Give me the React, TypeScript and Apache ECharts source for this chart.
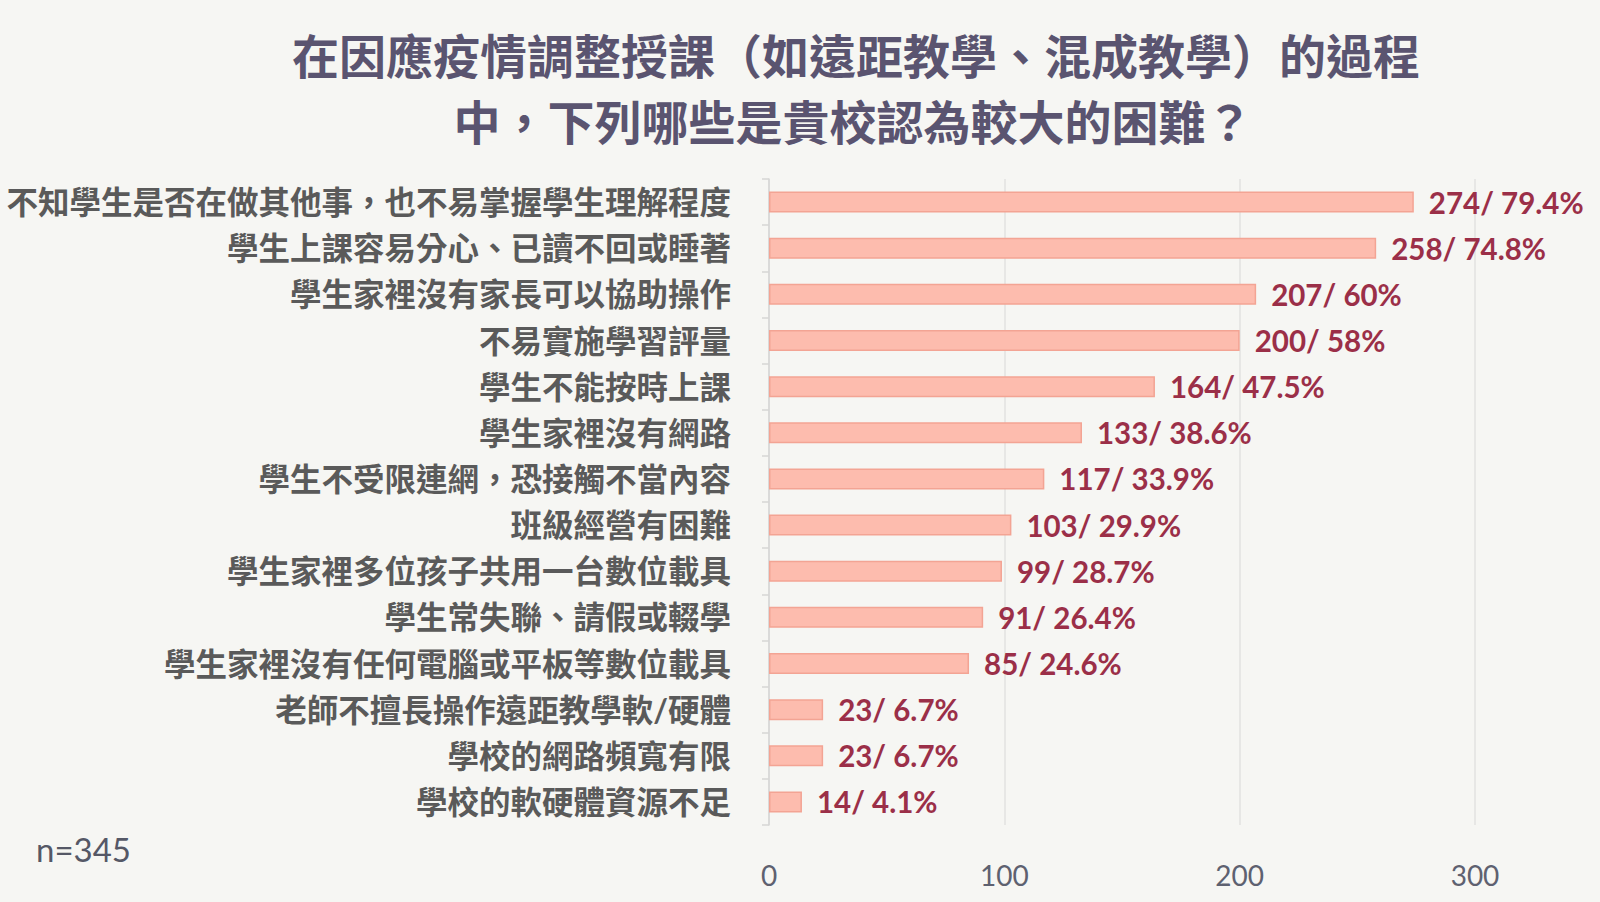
import React, { useEffect, useRef } from "react";
import * as echarts from "echarts";

const titleLines = [
  "在因應疫情調整授課（如遠距教學、混成教學）的過程",
  "中，下列哪些是貴校認為較大的困難？",
];
const categories = [
  "不知學生是否在做其他事，也不易掌握學生理解程度",
  "學生上課容易分心、已讀不回或睡著",
  "學生家裡沒有家長可以協助操作",
  "不易實施學習評量",
  "學生不能按時上課",
  "學生家裡沒有網路",
  "學生不受限連網，恐接觸不當內容",
  "班級經營有困難",
  "學生家裡多位孩子共用一台數位載具",
  "學生常失聯、請假或輟學",
  "學生家裡沒有任何電腦或平板等數位載具",
  "老師不擅長操作遠距教學軟/硬體",
  "學校的網路頻寬有限",
  "學校的軟硬體資源不足",
];
const counts = [274, 258, 207, 200, 164, 133, 117, 103, 99, 91, 85, 23, 23, 14];
const percents = ["79.4", "74.8", "60", "58", "47.5", "38.6", "33.9", "29.9", "28.7", "26.4", "24.6", "6.7", "6.7", "4.1"];
const sampleNote = "n=345";

const FONT = "Lato, 'Noto Sans CJK TC', 'Noto Sans', sans-serif";

export default function App() {
  const ref = useRef<HTMLDivElement>(null);
  useEffect(() => {
    document.body.style.margin = "0";
    const chart = echarts.init(ref.current!, null, { renderer: "svg" });
    chart.setOption({
      animation: false,
      backgroundColor: "#F6F6F3",
      grid: { left: 769, right: 125, top: 179, bottom: 77, containLabel: false },
      xAxis: {
        type: "value",
        min: 0,
        max: 300,
        interval: 100,
        axisLine: { show: false },
        axisTick: { show: false },
        splitLine: { show: true, lineStyle: { color: "#E2E2E0", width: 1.5 } },
        axisLabel: { color: "#5E6170", fontSize: 28, fontFamily: FONT, margin: 36 },
      },
      yAxis: {
        type: "category",
        inverse: true,
        data: categories,
        axisLine: { show: true, lineStyle: { color: "#D6D6D4", width: 1.5 } },
        axisTick: { show: true, length: 7, lineStyle: { color: "#D6D6D4", width: 1.5 } },
        axisLabel: {
          color: "#5A5A5A",
          fontSize: 31.5,
          fontWeight: "bold",
          fontFamily: FONT,
          margin: 38,
        },
      },
      series: [
        {
          type: "bar",
          data: counts,
          barWidth: 21,
          itemStyle: { color: "#FDBCAE", borderColor: "#F3A494", borderWidth: 1.5 },
          label: {
            show: true,
            position: "right",
            distance: 15,
            color: "#9B2F48",
            fontSize: 29.5,
            fontWeight: "bold",
            fontFamily: FONT,
            formatter: (p: any) => `${counts[p.dataIndex]}/ ${percents[p.dataIndex]}%`,
          },
        },
      ],
      graphic: [
        {
          type: "text",
          x: 856,
          y: 56,
          style: {
            text: titleLines[0],
            fill: "#5A5470",
            fontSize: 47,
            fontWeight: "bold",
            fontFamily: FONT,
            textAlign: "center",
            textVerticalAlign: "middle",
          },
        },
        {
          type: "text",
          x: 853,
          y: 122,
          style: {
            text: titleLines[1],
            fill: "#5A5470",
            fontSize: 47,
            fontWeight: "bold",
            fontFamily: FONT,
            textAlign: "center",
            textVerticalAlign: "middle",
          },
        },
        {
          type: "text",
          x: 36,
          y: 849,
          style: {
            text: sampleNote,
            fill: "#555866",
            fontSize: 33,
            fontFamily: FONT,
            textAlign: "left",
            textVerticalAlign: "middle",
          },
        },
      ],
    });
    return () => chart.dispose();
  }, []);
  return <div ref={ref} style={{ width: 1600, height: 902 }} />;
}
